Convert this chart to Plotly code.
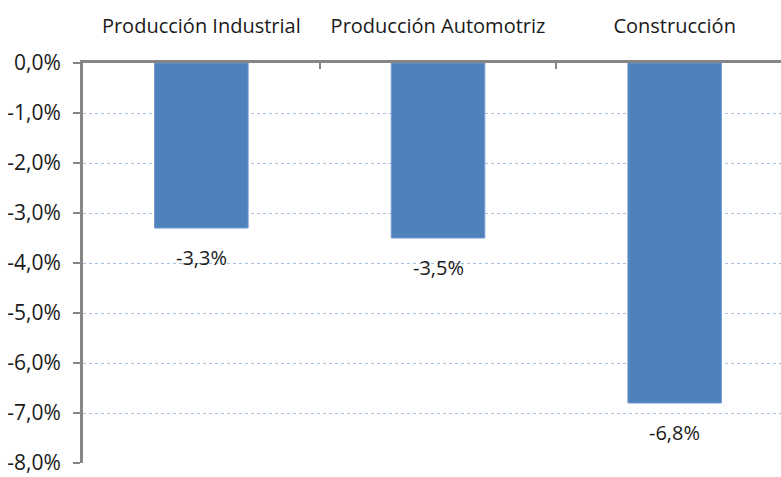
import plotly.graph_objects as go

categories = ["Producción Industrial", "Producción Automotriz", "Construcción"]
values = [-3.3, -3.5, -6.8]
y_ticks = [0, -1, -2, -3, -4, -5, -6, -7, -8]
y_tick_labels = ["0,0%", "-1,0%", "-2,0%", "-3,0%", "-4,0%", "-5,0%", "-6,0%", "-7,0%", "-8,0%"]
bar_labels = [f"{v:.1f}%".replace(".", ",") for v in values]

FONT = "Open Sans"
TXT = "#1a1a1a"

fig = go.Figure(go.Bar(
    x=categories, y=values,
    marker=dict(color="#4F81BD", line=dict(color="#6E97CC", width=1)),
    width=0.395, cliponaxis=False,
))

for c, v, t in zip(categories, values, bar_labels):
    fig.add_annotation(x=c, y=v, text=t, showarrow=False, yshift=-29,
                       font=dict(family=FONT, size=20, color=TXT))

# plot area in the reference runs past the right edge of the picture
fig.update_layout(
    width=793, height=477,
    margin=dict(l=83, r=0, t=63, b=14),
    plot_bgcolor="white", paper_bgcolor="white",
    showlegend=False,
    font=dict(family=FONT, size=20, color=TXT),
)
fig.update_xaxes(
    side="top", showline=True, linecolor="#868686", linewidth=3,
    ticks="inside", tickson="boundaries", ticklen=6, tickwidth=2, tickcolor="#868686",
    tickfont=dict(family=FONT, size=20, color=TXT), ticklabelstandoff=19,
    showgrid=False, zeroline=False, automargin=False,
)
fig.update_yaxes(
    range=[-8, 0], tickvals=y_ticks, ticktext=y_tick_labels,
    showline=True, linecolor="#868686", linewidth=3,
    ticks="outside", ticklen=7, tickwidth=2, tickcolor="#868686",
    tickfont=dict(family=FONT, size=21, color=TXT), ticklabelstandoff=8,
    ticklabeloverflow="allow",
    showgrid=True, gridcolor="#A9C1E0", griddash="dot", gridwidth=1,
    zeroline=False, automargin=False,
)

fig.write_html(
    "out.html",
    config={"displayModeBar": False},
    post_script="document.body.style.margin='0';"
                "document.body.style.overflow='hidden';"
                "document.documentElement.style.overflow='hidden';",
)
